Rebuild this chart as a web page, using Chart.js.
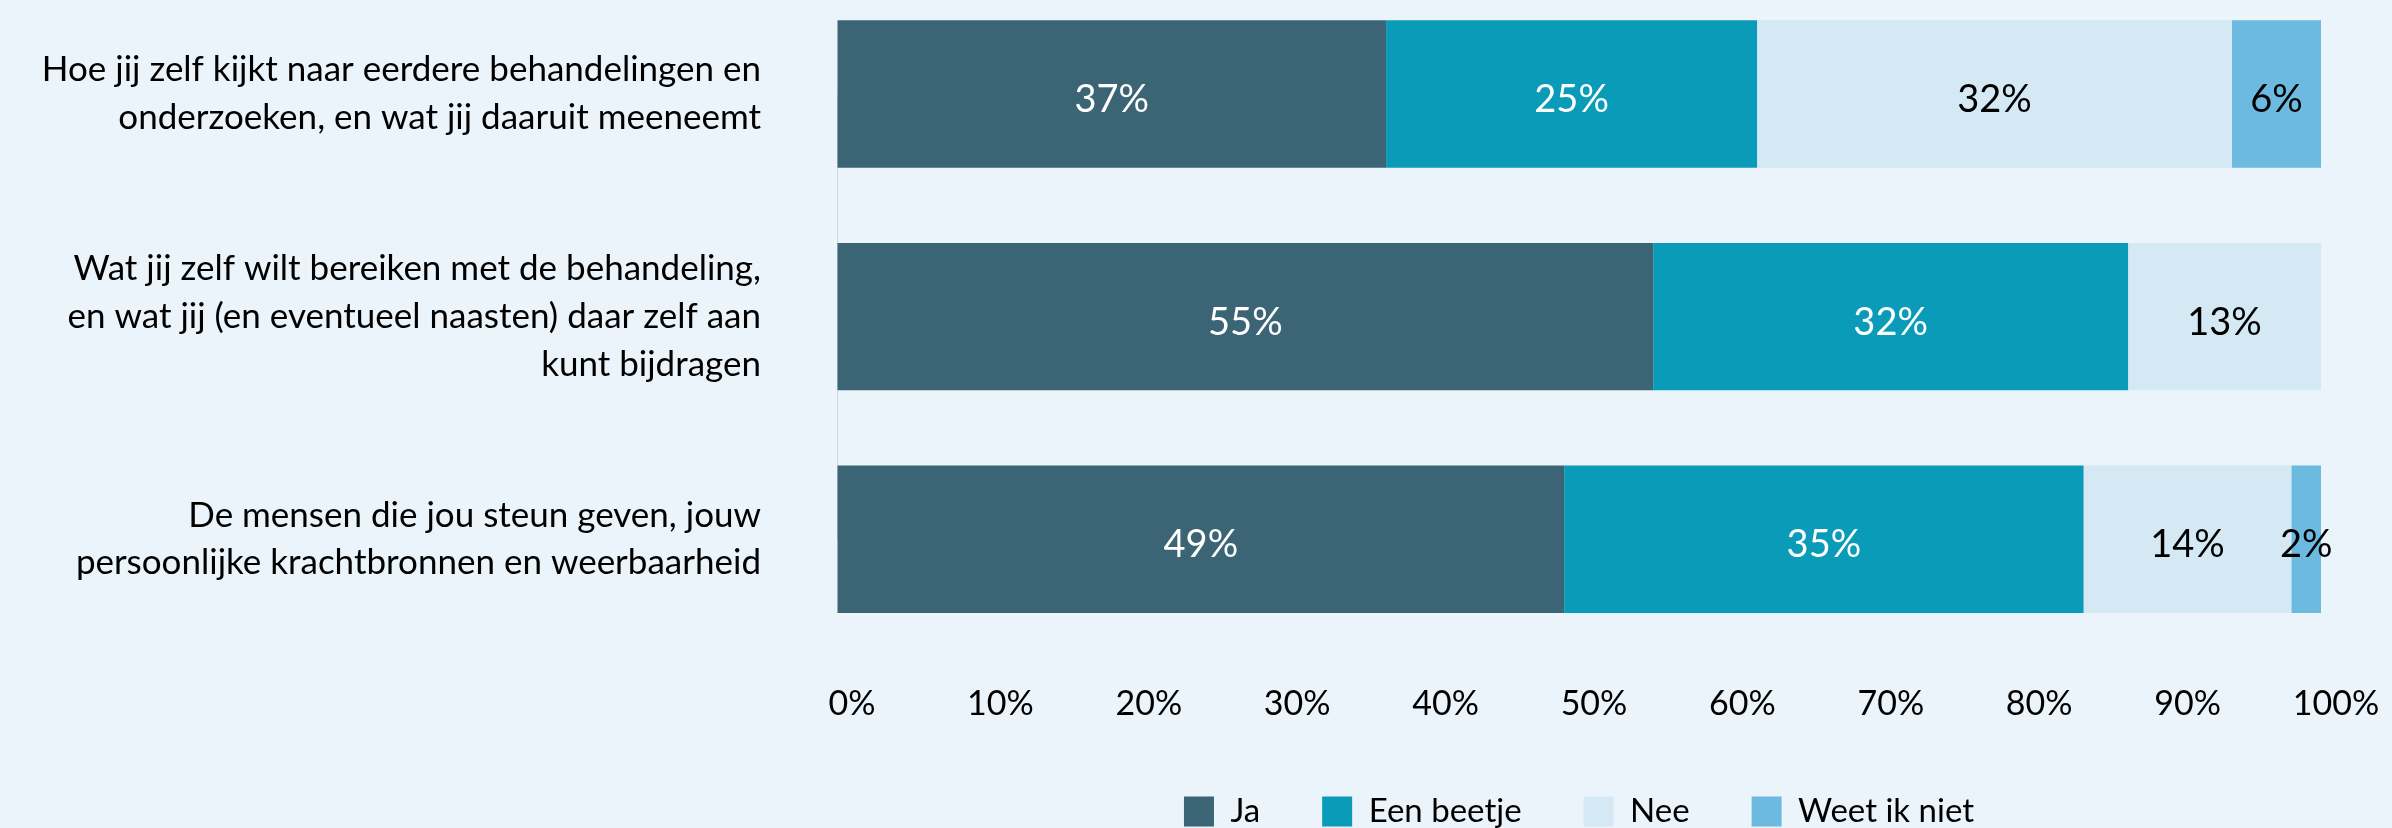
<!DOCTYPE html>
<html lang="nl">
<head>
<meta charset="utf-8">
<title>Behandeling</title>
<script src="https://cdn.jsdelivr.net/npm/chart.js@4"></script>
<style>
  html, body { margin: 0; padding: 0; background: #ebf4fa; overflow: hidden; }
  .chart-wrap { position: relative; width: 2392px; height: 838px; }
</style>
</head>
<body>
<div class="chart-wrap"><canvas id="surveyChart"></canvas></div>
<script>
const categories = [
  ["Hoe jij zelf kijkt naar eerdere behandelingen en", "onderzoeken, en wat jij daaruit meeneemt"],
  ["Wat jij zelf wilt bereiken met de behandeling,", "en wat jij (en eventueel naasten) daar zelf aan", "kunt bijdragen"],
  ["De mensen die jou steun geven, jouw", "persoonlijke krachtbronnen en weerbaarheid"],
];
const seriesNames = ["Ja", "Een beetje", "Nee", "Weet ik niet"];
const ja = [37, 55, 49];
const eenBeetje = [25, 32, 35];
const nee = [32, 13, 14];
const weetIkNiet = [6, 0, 2];

const FONT = "Lato";

// draws the percentage in the middle of each segment
const barLabels = {
  id: "barLabels",
  afterDatasetsDraw(chart) {
    const c = chart.ctx;
    c.save();
    c.font = "38px " + FONT;
    c.textAlign = "center";
    c.textBaseline = "middle";
    chart.data.datasets.forEach((ds, i) => {
      const meta = chart.getDatasetMeta(i);
      meta.data.forEach((bar, j) => {
        const v = ds.data[j];
        if (!v) return;
        c.fillStyle = ds.labelColor;
        c.fillText(v + "%", (bar.x + bar.base) / 2, bar.y + 6);
      });
    });
    c.restore();
  },
};

document.addEventListener("DOMContentLoaded", () => {
  const ctx = document.getElementById("surveyChart").getContext("2d");
  new Chart(ctx, {
    type: "bar",
    data: {
      labels: categories,
      datasets: [
        { label: seriesNames[0], data: ja, backgroundColor: "#3b6475", labelColor: "#ffffff" },
        { label: seriesNames[1], data: eenBeetje, backgroundColor: "#0a9bb9", labelColor: "#ffffff" },
        { label: seriesNames[2], data: nee, backgroundColor: "#d4e9f4", labelColor: "#000000" },
        { label: seriesNames[3], data: weetIkNiet, backgroundColor: "#6cbae0", labelColor: "#000000" },
      ],
    },
    options: {
      indexAxis: "y",
      responsive: true,
      maintainAspectRatio: false,
      animation: false,
      datasets: {
        bar: { barPercentage: 1, categoryPercentage: 0.662, clip: false, borderWidth: 0 },
      },
      layout: { padding: { top: 94, right: 71, left: 0, bottom: 0 } },
      scales: {
        x: {
          stacked: true,
          min: 0,
          max: 100,
          // invisible tick marks push the labels down
          grid: { drawOnChartArea: false, drawTicks: true, tickLength: 136, color: "rgba(0,0,0,0)" },
          border: { display: false },
          ticks: {
            stepSize: 10,
            padding: 0,
            labelOffset: 15,
            maxRotation: 0,
            color: "#000",
            font: { family: FONT, size: 34, lineHeight: 1.7 },
            callback: (v) => v + "%",
          },
        },
        y: {
          stacked: true,
          offset: false,
          grid: { drawOnChartArea: false, drawTicks: true, tickLength: 76, color: "rgba(0,0,0,0)" },
          border: { display: true, color: "#d0d8dc", width: 1 },
          afterFit: (scale) => {
            scale.width = 837;
          },
          ticks: {
            padding: 0,
            autoSkip: false,
            color: "#000",
            font: { family: FONT, size: 35, lineHeight: 1.37 },
          },
        },
      },
      plugins: {
        tooltip: { enabled: false },
        legend: {
          position: "bottom",
          fullSize: false,
          labels: {
            boxWidth: 30,
            boxHeight: 30,
            padding: 62,
            color: "#000",
            font: { family: FONT, size: 33 },
          },
        },
      },
    },
    plugins: [barLabels],
  });
});
</script>
</body>
</html>
